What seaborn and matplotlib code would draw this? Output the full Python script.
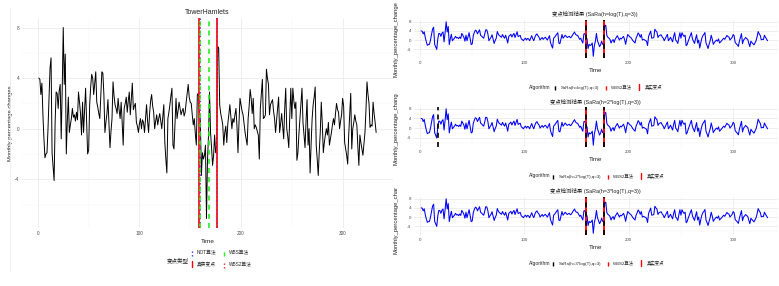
import matplotlib
matplotlib.use("Agg")
import numpy as np
import pandas as pd
import matplotlib.pyplot as plt
import seaborn as sns
from matplotlib.lines import Line2D
from matplotlib.legend_handler import HandlerLine2D
from matplotlib.ticker import MultipleLocator
from matplotlib.transforms import Bbox

# ---------------- data ----------------
monthly_change = [
    4.0, 3.9, 2.7, 3.6, 1.1, -0.8, -2.3, -2.0, -1.9, 0.0,
    2.5, 4.8, 5.6, -1.9, -3.0, -4.1, 0.5, 2.9, 2.8, 1.6,
    3.0, 3.5, -0.8, 3.2, 8.0, 3.5, 5.9, -2.0, 0.6, 2.5,
    -0.3, 0.3, 0.8, 1.6, 0.9, 1.1, 0.6, 1.3, 0.7, 2.9,
    2.1, 1.2, -0.5, 2.1, -0.3, 1.5, 3.2, 0.5, -2.0, -1.7,
    1.9, 3.3, 4.3, 4.0, 2.7, 3.6, 4.5, 2.1, 1.7, 1.2,
    0.8, 2.6, 4.5, 4.4, 2.7, -0.3, 0.5, 1.2, 2.3, 0.4,
    -1.5, -0.2, 0.8, 3.7, 2.6, 1.9, 1.6, 1.2, 2.4, 1.5,
    0.8, 2.1, 0.5, -1.3, 1.6, 2.0, 2.5, 1.3, 2.2, 2.9,
    1.1, 2.4, 3.6, 1.5, 1.8, 2.0, 0.5, 0.2, -0.3, 0.4,
    0.8, 0.0, 0.7, 0.5, -0.3, 0.8, 1.9, 0.6, -0.3, 1.2,
    2.2, 2.7, 1.8, 1.3, 0.0, 0.6, 1.1, 0.3, 0.8, 1.2,
    0.6, 0.0, 1.0, 1.9, -1.1, -2.4, -3.5, 0.8, 1.3, 1.9,
    2.6, 3.2, -1.3, -1.6, 0.5, 2.4, 0.8, 1.4, 2.1, 1.6,
    1.1, 1.4, 1.6, 1.0, 1.3, 2.1, 2.8, 3.5, 2.5, 2.1,
    2.0, 1.1, 0.3, 0.8, -0.4, -1.3, 2.7, 2.8, 1.5, 0.5,
    -3.7, -1.9, -2.4, -2.1, -1.3, -7.1, -2.5, -0.5, 2.9, -0.3,
    -1.5, -2.9, -2.1, -0.5, -1.9, -1.5, 6.5, 6.4, 1.9, 1.2,
    0.8, 0.3, -1.3, -0.3, 0.2, -1.1, 0.4, 1.1, 1.9, 0.9,
    0.0, 0.8, 0.5, 1.1, 1.6, 0.2, -1.9, 0.5, 2.4, 1.9,
    1.4, 1.1, 0.4, -0.3, -0.8, -1.3, 0.8, 1.8, 3.1, 2.4,
    1.2, 2.4, 0.0, 0.3, 0.1, -0.2, -0.5, -2.4, 1.6, 2.8,
    3.9, 0.8, 0.9, 1.1, 4.7, 4.0, 3.5, 1.1, 1.9, 2.1,
    2.3, 1.4, 0.8, -0.3, 0.7, 1.6, 2.5, -0.3, 0.4, 1.2,
    0.2, -0.8, 1.6, 3.2, 0.0, -0.6, -1.5, 1.0, 3.2, 0.8,
    3.2, 2.2, 1.6, 2.1, -2.5, -1.9, -0.4, 0.8, 2.0, 3.2,
    0.5, -0.5, -1.5, 0.6, 2.3, -1.3, 0.0, -3.5, -1.2, 0.8,
    1.9, 2.5, 3.3, -1.3, -2.4, -3.7, -1.8, -0.3, 2.1, 0.4,
    -1.9, -1.1, -0.5, 0.0, -0.5, 0.5, -1.3, -0.8, -0.3, 0.3,
    0.8, 0.3, 1.2, 2.0, 1.5, 1.3, 0.0, 0.6, 1.1, 2.4,
    1.8, -1.1, -1.6, -2.1, -2.8, -0.5, 1.1, 2.8, -1.6, 0.0,
    0.5, 1.1, 0.6, 0.3, -1.4, -2.9, -0.5, -1.1, -1.6, -2.1,
    -1.2, -0.3, 1.5, 3.7, 2.7, 2.0, 0.1, 0.3, 0.2, 2.1,
    1.2, 0.5, -0.3,
]
time_index = list(range(1, len(monthly_change) + 1))

# change points (left panel)
true_cp = [159, 176]
not_cp = [160, 176]
wbs_cp = [160, 168]
wbs2_cp = [159, 176]

# right panels
sara_titles = [
    "变点检测结果 (SaRa(h=log(T),q=3))",
    "变点检测结果 (SaRa(h=2*log(T),q=3))",
    "变点检测结果 (SaRa(h=3*log(T),q=3))",
]
sara_labels = ["SaRa(h=log(T),q=3)", "SaRa(h=2*log(T),q=3)", "SaRa(h=3*log(T),q=3)"]
sara_cp = [[159, 176], [17, 159, 176], [159, 176]]
right_true_cp = [159, 176]
right_wbs2_cp = [159, 176]

left_legend_labels = ["NOT算法", "真实变点", "WBS算法", "WBS2算法"]

df = pd.DataFrame({"Time": time_index, "Monthly_percentage_change": monthly_change})

# ---------------- style ----------------
sns.set_theme(style="whitegrid")
plt.rcParams["font.family"] = ["Liberation Sans", "Noto Sans CJK SC", "DejaVu Sans"]
plt.rcParams["axes.unicode_minus"] = False

W, H = 779, 286
fig = plt.figure(figsize=(W / 100, H / 100), dpi=100, facecolor="white")


def add_ax(x0, y0, x1, y1):
    return fig.add_axes([x0 / W, 1 - y1 / H, (x1 - x0) / W, (y1 - y0) / H])


def ftext(x, y, s, **kw):
    return fig.text(x / W, 1 - y / H, s, **kw)


class VHandler(HandlerLine2D):
    def create_artists(self, legend, orig_handle, xdescent, ydescent,
                       width, height, fontsize, trans):
        x = -xdescent + width / 2
        line = Line2D([x, x], [-ydescent - 0.5 * height, -ydescent + 1.5 * height])
        self.update_prop(line, orig_handle, legend)
        line.set_transform(trans)
        return [line]


def style_ax(ax):
    ax.set_facecolor("white")
    for s in ax.spines.values():
        s.set_visible(False)
    ax.xaxis.set_major_locator(MultipleLocator(100))
    ax.xaxis.set_minor_locator(MultipleLocator(50))
    ax.yaxis.set_major_locator(MultipleLocator(4))
    ax.yaxis.set_minor_locator(MultipleLocator(2))
    ax.grid(which="major", color="#EBEBEB", lw=0.6)
    ax.grid(which="minor", color="#F4F4F4", lw=0.35)
    ax.tick_params(which="both", length=0, labelsize=3.4, labelcolor="#4D4D4D", pad=2)
    ax.set_axisbelow(True)


vals = np.array(monthly_change)
lo, hi = vals.min(), vals.max()
ypad = 0.05 * (hi - lo)
tlo, thi = min(time_index), max(time_index)
xpad = 0.05 * (thi - tlo)

DASH = (0, (3, 2.5))
DOT = (0, (1, 1.6))

# ---------------- left panel ----------------
axL = add_ax(22, 18, 393, 228)
style_ax(axL)
sns.lineplot(data=df, x="Time", y="Monthly_percentage_change", color="black",
             lw=0.7, ax=axL)
for c in true_cp:
    axL.axvline(c, color="#FF0000", lw=1.2, ls="-")
for c in not_cp:
    axL.axvline(c, color="#3333FF", lw=1.2, ls=DOT)
for c in wbs_cp:
    axL.axvline(c, color="#22EE22", lw=1.2, ls=DASH)
for c in wbs2_cp:
    axL.axvline(c, color="#FF2222", lw=1.2, ls=DOT)
axL.set_xlim(tlo - xpad, thi + xpad)
axL.set_ylim(lo - ypad, hi + ypad)
axL.set_xlabel("Time", fontsize=4.6, labelpad=2.5, color="#222222")
axL.set_ylabel("Monthly percentage changes", fontsize=4.2, labelpad=1.5, color="#222222")
ftext(207, 13, "TowerHamlets", fontsize=5, ha="center", va="center", color="#222222")

hL = [Line2D([], [], color="#3333FF", lw=1.0, ls=DOT),
      Line2D([], [], color="#FF0000", lw=1.0, ls="-"),
      Line2D([], [], color="#22EE22", lw=1.0, ls=DASH),
      Line2D([], [], color="#FF2222", lw=1.0, ls=DOT)]
leg = fig.legend(hL, left_legend_labels, ncol=2, loc="center",
                 bbox_to_anchor=(221 / W, 1 - 258.5 / H), fontsize=3.4,
                 frameon=False, handlelength=0.6, handletextpad=0.8,
                 columnspacing=1.2, labelspacing=1.4,
                 handler_map={Line2D: VHandler()})
ftext(178, 260, "变点类型", fontsize=4, ha="center", va="center", color="#222222")

# faint tile border
fig.add_artist(Line2D([10 / W, 10 / W], [1 - 7 / H, 1 - 271 / H], color="#EEEEEE", lw=0.6))

# ---------------- right panels ----------------
boxes = [(20, 58), (107, 147), (197, 235)]
title_y = [14, 102, 191]
tiles = [(0, 92), (94, 185), (188, 286)]
leg_y = [87, 176, 263]
for i in range(3):
    y0, y1 = boxes[i]
    ax = add_ax(414, y0, 778, y1)
    style_ax(ax)
    sns.lineplot(data=df, x="Time", y="Monthly_percentage_change", color="#0000FF",
                 lw=0.75, ax=ax)
    for c in right_true_cp:
        ax.axvline(c, color="#FF0000", lw=1.3, ls="-")
    for c in right_wbs2_cp:
        ax.axvline(c, color="#FF0000", lw=1.3, ls=DASH)
    for c in sara_cp[i]:
        ax.axvline(c, color="black", lw=1.2, ls=DASH)
    ax.set_xlim(-5.8, 343)
    ax.set_ylim(lo - ypad, hi + ypad)
    ax.tick_params(labelsize=3.2)
    ax.set_xlabel("Time", fontsize=4.4, labelpad=2, color="#222222")
    ax.set_ylabel("Monthly_percentage_change", fontsize=4.2, labelpad=6, color="#222222")
    t0, t1 = tiles[i]
    ax.yaxis.label.set_clip_box(Bbox.from_extents(0, H - t1, W, H - t0))
    ax.yaxis.label.set_clip_on(True)
    ftext(595, title_y[i], sara_titles[i], fontsize=3.9, ha="center", va="center",
          color="#222222")
    hR = [Line2D([], [], color="black", lw=1.0, ls=DASH),
          Line2D([], [], color="#FF0000", lw=1.0, ls=DASH),
          Line2D([], [], color="#FF0000", lw=1.0, ls="-")]
    fig.legend(hR, [sara_labels[i], "WBS2算法", "真实变点"], ncol=3, loc="center",
               bbox_to_anchor=(608 / W, 1 - leg_y[i] / H), fontsize=3.2,
               frameon=False, handlelength=0.6, handletextpad=0.9,
               columnspacing=1.3, handler_map={Line2D: VHandler()})
    ftext(540, leg_y[i], "Algorithm", fontsize=3.6, ha="center", va="center",
          color="#222222")

fig.savefig("out.png", dpi=100, facecolor="white")
